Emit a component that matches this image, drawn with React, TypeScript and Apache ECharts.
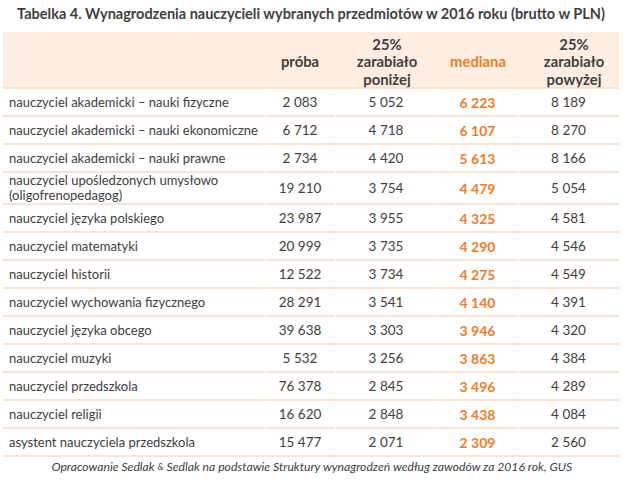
import React, { useEffect, useRef } from "react";
import * as echarts from "echarts";

const title = "Tabelka 4. Wynagrodzenia nauczycieli wybranych przedmiotów w 2016 roku (brutto w PLN)";
const headers = ["próba", "25%\nzarabiało\nponiżej", "mediana", "25%\nzarabiało\npowyżej"];
const categories = [
  "nauczyciel akademicki – nauki fizyczne",
  "nauczyciel akademicki – nauki ekonomiczne",
  "nauczyciel akademicki – nauki prawne",
  "nauczyciel upośledzonych umysłowo\n(oligofrenopedagog)",
  "nauczyciel języka polskiego",
  "nauczyciel matematyki",
  "nauczyciel historii",
  "nauczyciel wychowania fizycznego",
  "nauczyciel języka obcego",
  "nauczyciel muzyki",
  "nauczyciel przedszkola",
  "nauczyciel religii",
  "asystent nauczyciela przedszkola",
];
const proba = [2083, 6712, 2734, 19210, 23987, 20999, 12522, 28291, 39638, 5532, 76378, 16620, 15477];
const ponizej = [5052, 4718, 4420, 3754, 3955, 3735, 3734, 3541, 3303, 3256, 2845, 2848, 2071];
const mediana = [6223, 6107, 5613, 4479, 4325, 4290, 4275, 4140, 3946, 3863, 3496, 3438, 2309];
const powyzej = [8189, 8270, 8166, 5054, 4581, 4546, 4549, 4391, 4320, 4384, 4289, 4084, 2560];
const footer = "Opracowanie Sedlak & Sedlak na podstawie Struktury wynagrodzeń według zawodów za 2016 rok, GUS";

const fmt = (v: number) => {
  const s = String(v);
  return s.length > 3 ? s.slice(0, s.length - 3) + " " + s.slice(-3) : s;
};

export default function App() {
  const ref = useRef<HTMLDivElement>(null);
  useEffect(() => {
    const chart = echarts.init(ref.current!, null, { renderer: "svg" });
    const FONT = "Lato";
    const DARK = "#404040";
    const ORANGE = "#f07c26";
    const LINE = "#f6dcc2";
    const cols = [
      [3, 265],
      [265, 335],
      [335, 437],
      [437, 518],
      [518, 619],
    ];
    const valCenters = [300, 386, 477.5, 568.5];
    const headCenters = [300, 387, 478, 574];
    const headerTop = 33;
    const headerBottom = 88;
    const rowH = categories.map((c) => (c.includes("\n") ? 32 : 28));
    const elements: any[] = [];
    elements.push({
      type: "text",
      x: 311,
      y: 13,
      style: {
        text: title,
        fill: DARK,
        font: `bold 14.5px ${FONT}`,
        align: "center",
        verticalAlign: "middle",
      },
    });
    elements.push({
      type: "rect",
      shape: { x: 3, y: headerTop, width: 616, height: headerBottom - headerTop },
      style: { fill: "#fdeee1" },
    });
    elements.push({
      type: "line",
      shape: { x1: 3, y1: headerTop, x2: 619, y2: headerTop },
      style: { stroke: "#fbe3cf", lineWidth: 1 },
    });
    headers.forEach((h, i) => {
      elements.push({
        type: "text",
        x: headCenters[i],
        y: 61,
        style: {
          text: h,
          fill: i === 2 ? ORANGE : DARK,
          font: `bold 14.8px ${FONT}`,
          align: "center",
          verticalAlign: "middle",
          lineHeight: 17.5,
        },
      });
    });
    const drawSep = (y: number) => {
      cols.forEach(([a, b], i) => {
        elements.push({
          type: "line",
          shape: { x1: a + (i === 0 ? 0 : 1), y1: y, x2: b, y2: y },
          style: { stroke: LINE, lineWidth: 1.5 },
        });
      });
    };
    drawSep(headerBottom);
    let y = headerBottom;
    categories.forEach((c, i) => {
      const h = rowH[i];
      const cy = y + h / 2 + (c.includes("\n") ? -0.5 : 0);
      elements.push({
        type: "text",
        x: 9,
        y: cy,
        style: {
          text: c,
          fill: DARK,
          font: `13px ${FONT}`,
          align: "left",
          verticalAlign: "middle",
          lineHeight: 15,
        },
      });
      const vals = [proba[i], ponizej[i], mediana[i], powyzej[i]];
      vals.forEach((v, j) => {
        elements.push({
          type: "text",
          x: valCenters[j],
          y: y + h / 2,
          style: {
            text: fmt(v),
            fill: j === 2 ? ORANGE : DARK,
            font: `${j === 2 ? "bold 14px" : "13.5px"} ${FONT}`,
            align: "center",
            verticalAlign: "middle",
          },
        });
      });
      y += h;
      drawSep(y);
    });
    elements.push({
      type: "text",
      x: 312,
      y: 466,
      style: {
        rich: {
          s: { fill: DARK, font: `italic 9px ${FONT}` },
        },
        text: footer.replace("Sedlak & Sedlak", "Sedlak {s|&} Sedlak"),
        fill: DARK,
        font: `italic 12.2px ${FONT}`,
        align: "center",
        verticalAlign: "middle",
      },
    });
    chart.setOption({
      animation: false,
      backgroundColor: "#ffffff",
      graphic: { elements },
    });
    return () => chart.dispose();
  }, []);
  return (
    <div
      ref={ref}
      style={{ position: "fixed", left: 0, top: 0, width: 623, height: 499 }}
    />
  );
}
